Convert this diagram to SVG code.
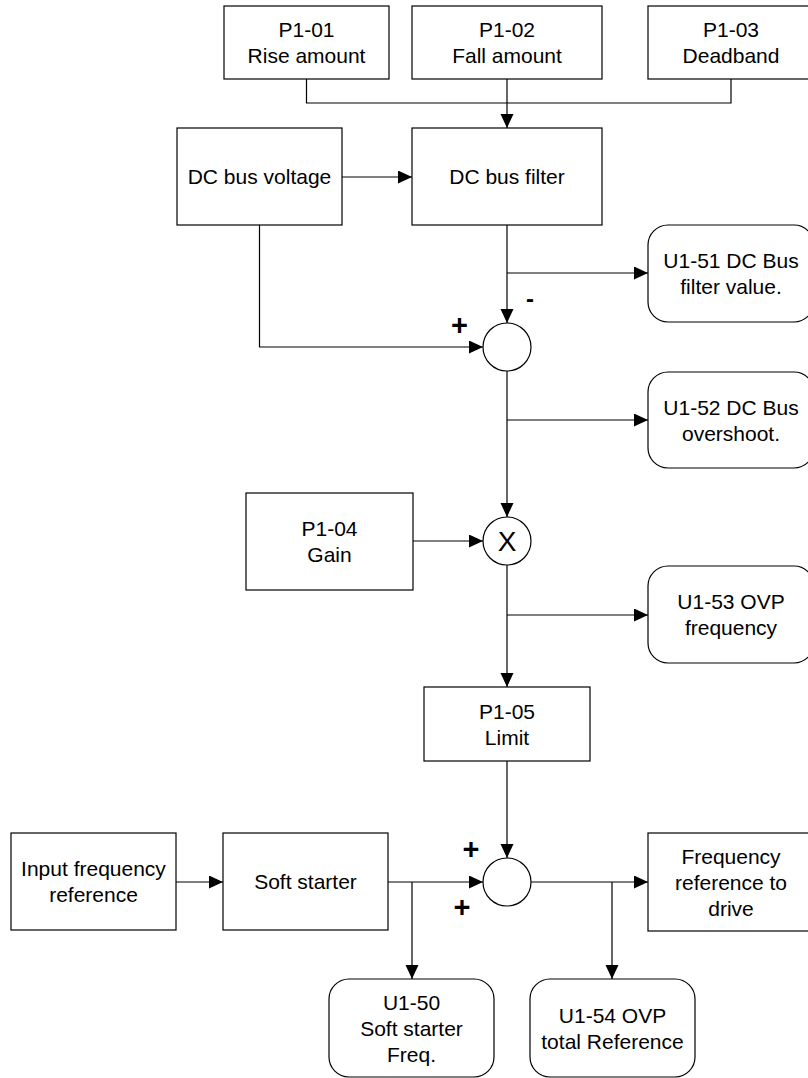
<svg xmlns="http://www.w3.org/2000/svg" width="808" height="1078" viewBox="0 0 808 1078">
<defs>
<marker id="ah" markerUnits="userSpaceOnUse" markerWidth="14" markerHeight="14" refX="14" refY="6.5" orient="auto">
<path d="M0,0 L14,6.5 L0,13 z" fill="#000"/>
</marker>
<style>
.box{fill:#fff;stroke:#000;stroke-width:1.2}
.t{font-family:"Liberation Sans",Arial,sans-serif;font-size:21px;fill:#000;text-anchor:middle}
.s{font-family:"Liberation Sans",Arial,sans-serif;font-size:29px;font-weight:bold;fill:#000;text-anchor:middle}
.m{font-family:"Liberation Sans",Arial,sans-serif;font-size:24px;font-weight:bold;fill:#000;text-anchor:middle}
.c{fill:none;stroke:#000;stroke-width:1.2}
.a{fill:none;stroke:#000;stroke-width:1.2;marker-end:url(#ah)}
</style>
</defs>
<rect width="808" height="1078" fill="#fff"/>
<g id="connectors">
<polyline class="c" points="306.5,79 306.5,103 731,103 731,79"/>
<line class="a" x1="507" y1="79" x2="507" y2="128"/>
<line class="a" x1="342" y1="177" x2="412" y2="177"/>
<polyline class="a" points="259.5,225 259.5,347 483,347"/>
<line class="a" x1="507" y1="225" x2="507" y2="323"/>
<line class="a" x1="507" y1="273" x2="648" y2="273"/>
<line class="a" x1="507" y1="371" x2="507" y2="517"/>
<line class="a" x1="507" y1="420" x2="648" y2="420"/>
<line class="a" x1="413" y1="541" x2="483" y2="541"/>
<line class="a" x1="507" y1="565" x2="507" y2="687"/>
<line class="a" x1="507" y1="615" x2="648" y2="615"/>
<line class="a" x1="507" y1="761" x2="507" y2="858"/>
<line class="a" x1="176" y1="882" x2="223" y2="882"/>
<line class="a" x1="388" y1="882" x2="483" y2="882"/>
<line class="a" x1="412" y1="882" x2="412" y2="979"/>
<line class="a" x1="531" y1="882" x2="648" y2="882"/>
<line class="a" x1="612" y1="882" x2="612" y2="979"/>
</g>
<g id="p1-01"><rect class="box" x="224" y="6" width="165" height="73"/><text class="t" x="306.5" y="37">P1-01</text><text class="t" x="306.5" y="63">Rise amount</text></g>
<g id="p1-02"><rect class="box" x="412" y="6" width="190" height="73"/><text class="t" x="507" y="37">P1-02</text><text class="t" x="507" y="63">Fall amount</text></g>
<g id="p1-03"><rect class="box" x="648" y="6" width="166" height="73"/><text class="t" x="731" y="37">P1-03</text><text class="t" x="731" y="63">Deadband</text></g>
<g id="dc-bus-voltage"><rect class="box" x="177" y="128" width="165" height="97"/><text class="t" x="259.5" y="184">DC bus voltage</text></g>
<g id="dc-bus-filter"><rect class="box" x="412" y="128" width="190" height="97"/><text class="t" x="507" y="184">DC bus filter</text></g>
<g id="u1-51"><rect class="box" x="648" y="225" width="166" height="97" rx="20"/><text class="t" x="731" y="268">U1-51 DC Bus</text><text class="t" x="731" y="294">filter value.</text></g>
<g id="sum1"><circle class="box" cx="507" cy="347" r="24"/><text class="s" x="459.5" y="335">+</text><text class="m" x="530" y="306.5">-</text></g>
<g id="u1-52"><rect class="box" x="648" y="372" width="166" height="96" rx="20"/><text class="t" x="731" y="414.5">U1-52 DC Bus</text><text class="t" x="731" y="440.5">overshoot.</text></g>
<g id="p1-04"><rect class="box" x="246" y="493" width="167" height="97"/><text class="t" x="329.5" y="536">P1-04</text><text class="t" x="329.5" y="562">Gain</text></g>
<g id="mult"><circle class="box" cx="507" cy="541" r="24"/><text class="t" x="507" y="551" style="font-size:28px">X</text></g>
<g id="u1-53"><rect class="box" x="648" y="566" width="166" height="97" rx="20"/><text class="t" x="731" y="609">U1-53 OVP</text><text class="t" x="731" y="635">frequency</text></g>
<g id="p1-05"><rect class="box" x="424" y="687" width="166" height="74"/><text class="t" x="507" y="718.5">P1-05</text><text class="t" x="507" y="744.5">Limit</text></g>
<g id="input-freq"><rect class="box" x="11" y="833" width="165" height="97"/><text class="t" x="93.5" y="876">Input frequency</text><text class="t" x="93.5" y="902">reference</text></g>
<g id="soft-starter"><rect class="box" x="223" y="833" width="165" height="97"/><text class="t" x="305.5" y="889">Soft starter</text></g>
<g id="sum2"><circle class="box" cx="507" cy="882" r="24"/><text class="s" x="471" y="858.5">+</text><text class="s" x="462" y="916.5">+</text></g>
<g id="freq-ref-drive"><rect class="box" x="648" y="833" width="166" height="98"/><text class="t" x="731" y="863.5">Frequency</text><text class="t" x="731" y="889.5">reference to</text><text class="t" x="731" y="915.5">drive</text></g>
<g id="u1-50"><rect class="box" x="329" y="979" width="165" height="98" rx="20"/><text class="t" x="411.5" y="1009.5">U1-50</text><text class="t" x="411.5" y="1035.5">Soft starter</text><text class="t" x="411.5" y="1061.5">Freq.</text></g>
<g id="u1-54"><rect class="box" x="530" y="979" width="165" height="98" rx="20"/><text class="t" x="612.5" y="1022.5">U1-54 OVP</text><text class="t" x="612.5" y="1048.5">total Reference</text></g>
</svg>
